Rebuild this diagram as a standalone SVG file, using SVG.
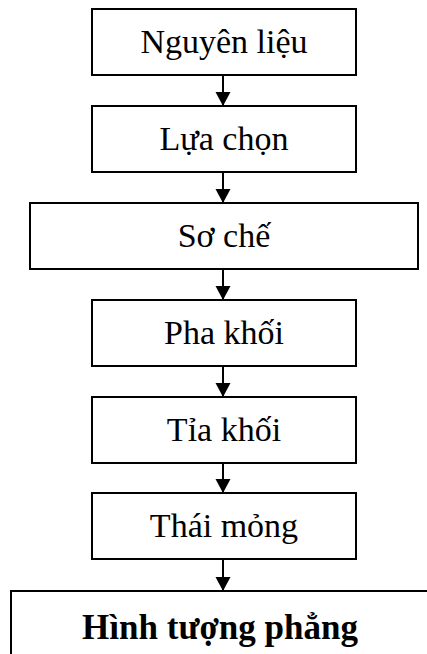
<svg xmlns="http://www.w3.org/2000/svg" width="427" height="654" viewBox="0 0 427 654">
<style>
.box{fill:#fff;stroke:#000;stroke-width:2}
.t{font-family:"Liberation Serif","Times New Roman",serif;font-size:34px;fill:#000;text-anchor:middle}
.b{font-weight:bold;font-size:35px}
.c{stroke:#000;stroke-width:2;fill:none}
</style>
<defs>
<marker id="ah" markerUnits="userSpaceOnUse" markerWidth="16" markerHeight="16" refX="14" refY="7.5" orient="auto">
<path d="M0,0 L14,7.5 L0,15 Z" fill="#000"/>
</marker>
</defs>
<rect width="427" height="654" fill="#fff"/>
<g id="n1"><rect class="box" x="92" y="9" width="264" height="66"/><text class="t" x="224" y="53">Nguyên liệu</text></g>
<g id="n2"><rect class="box" x="92" y="106" width="264" height="66"/><text class="t" x="224" y="150">Lựa chọn</text></g>
<g id="n3"><rect class="box" x="30" y="203" width="388" height="66"/><text class="t" x="224" y="247">Sơ chế</text></g>
<g id="n4"><rect class="box" x="92" y="300" width="264" height="66"/><text class="t" x="224" y="344">Pha khối</text></g>
<g id="n5"><rect class="box" x="92" y="397" width="264" height="66"/><text class="t" x="224" y="441">Tỉa khối</text></g>
<g id="n6"><rect class="box" x="92" y="493" width="264" height="66"/><text class="t" x="224" y="537">Thái mỏng</text></g>
<g id="n7"><rect class="box" x="11" y="591" width="440" height="90"/><text class="t b" x="220" y="639">Hình tượng phẳng</text></g>
<g id="connectors">
<line class="c" x1="223" y1="75" x2="223" y2="106" marker-end="url(#ah)"/>
<line class="c" x1="223" y1="172" x2="223" y2="203" marker-end="url(#ah)"/>
<line class="c" x1="223" y1="269" x2="223" y2="300" marker-end="url(#ah)"/>
<line class="c" x1="223" y1="366" x2="223" y2="397" marker-end="url(#ah)"/>
<line class="c" x1="223" y1="463" x2="223" y2="493" marker-end="url(#ah)"/>
<line class="c" x1="223" y1="559" x2="223" y2="591" marker-end="url(#ah)"/>
</g>
</svg>
